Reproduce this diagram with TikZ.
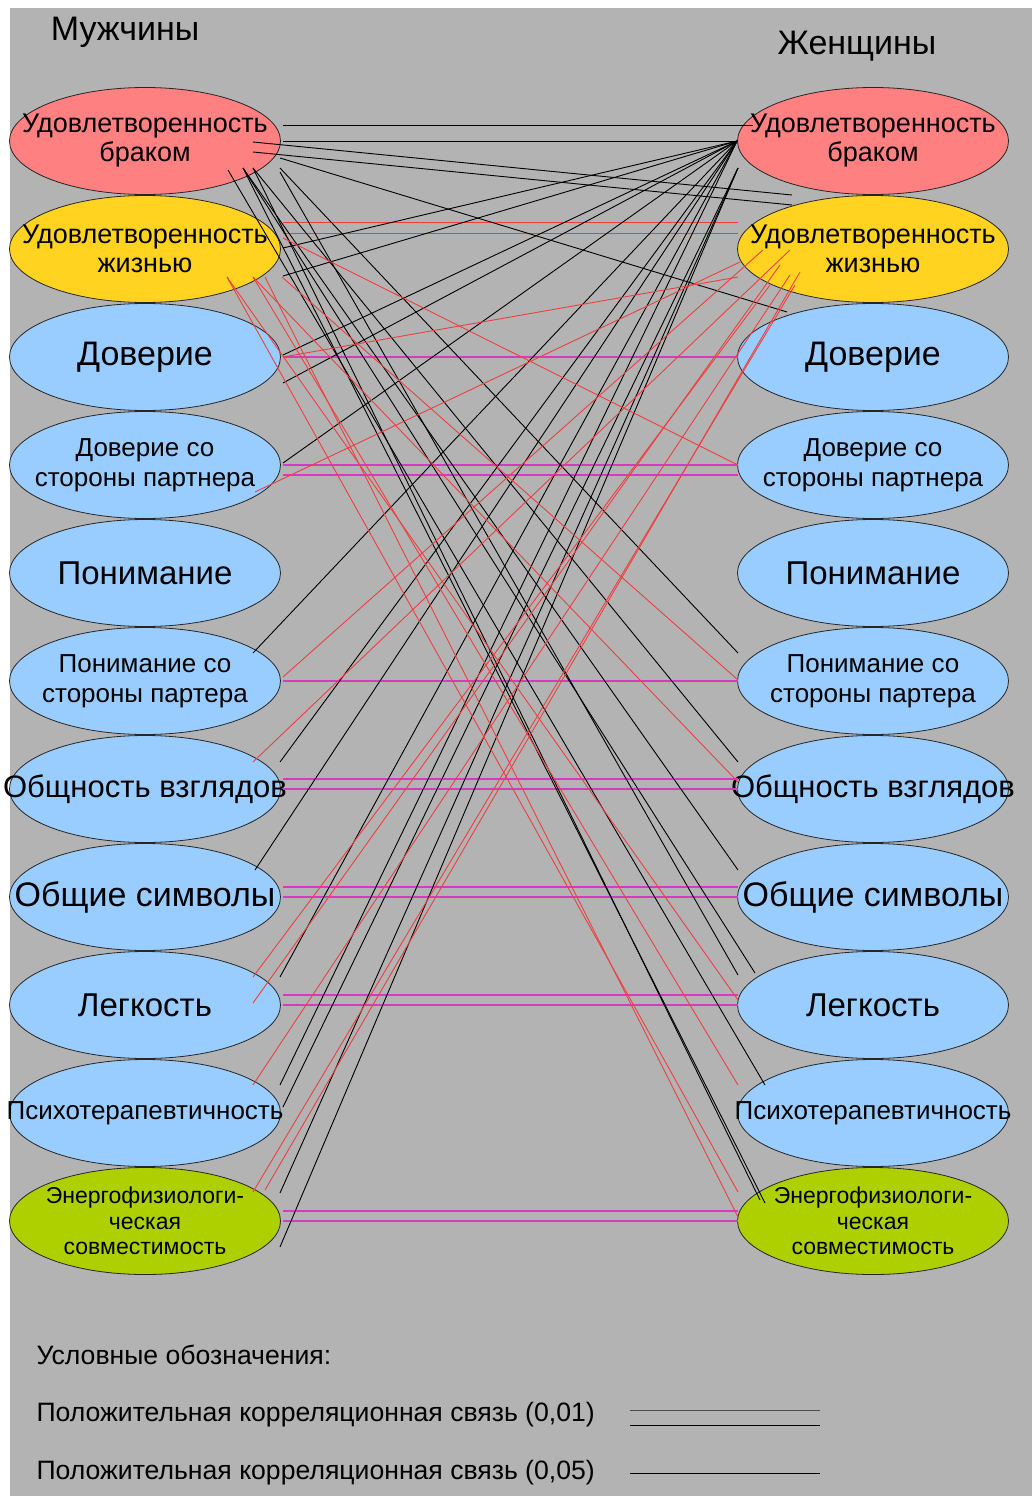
\documentclass[tikz,border=0pt]{standalone}
\usepackage{fontspec}
\setmainfont{Liberation Sans}
\usetikzlibrary{shapes.geometric,calc}
\definecolor{bgcol}{RGB}{179,179,179}
\definecolor{redfill}{RGB}{255,128,128}
\definecolor{yelfill}{RGB}{255,211,32}
\definecolor{bluefill}{RGB}{153,204,255}
\definecolor{grnfill}{RGB}{174,207,0}
\definecolor{redline}{RGB}{236,64,64}
\definecolor{magline}{RGB}{214,58,196}
\newcommand{\setfs}[2]{\fontsize{#1}{#2}\selectfont}
\tikzset{
	oval/.style={ellipse, draw=black!85, line width=0.8pt, minimum width=271pt, minimum height=107pt, inner sep=0pt},
	blk/.style={black, line width=0.9pt},
	rd/.style={redline, line width=0.9pt},
	mag/.style={magline, line width=1.6pt},
	every label/.style={align=center, inner sep=0pt, text=black},
}
\begin{document}
\begin{tikzpicture}[x=1pt, y=-1pt]
	\useasboundingbox (0,0) rectangle (1032,1496);
	\fill[white] (0,0) rectangle (1032,1496);
	\fill[bgcol] (10,8) rectangle (1032,1496);
	\node[font=\setfs{34}{36}] at (125,32) (tm) {Мужчины};
	\node[font=\setfs{34}{36}] at (857,46) (tw) {Женщины};
	% men
	\node[oval, fill=redfill, label={[font=\setfs{27}{29}]center:Удовлетворенность\\браком}] at (145,141) (m1) {};
	\node[oval, fill=yelfill, label={[font=\setfs{27}{29}]center:Удовлетворенность\\жизнью}] at (145,249) (m2) {};
	\node[oval, fill=bluefill, label={[font=\setfs{34}{36}]center:Доверие}] at (145,357) (m3) {};
	\node[oval, fill=bluefill, label={[font=\setfs{26}{30}]center:Доверие со\\стороны партнера}] at (145,465) (m4) {};
	\node[oval, fill=bluefill, label={[font=\setfs{33}{36}]center:Понимание}] at (145,573) (m5) {};
	\node[oval, fill=bluefill, label={[font=\setfs{26}{30}]center:Понимание со\\стороны партера}] at (145,681) (m6) {};
	\node[oval, fill=bluefill, label={[font=\setfs{31}{34}]center:Общность взглядов}] at (145,789) (m7) {};
	\node[oval, fill=bluefill, label={[font=\setfs{34}{36}]center:Общие символы}] at (145,897) (m8) {};
	\node[oval, fill=bluefill, label={[font=\setfs{33}{36}]center:Легкость}] at (145,1005) (m9) {};
	\node[oval, fill=bluefill, label={[font=\setfs{26}{28}]center:Психотерапевтичность}] at (145,1113) (m10) {};
	\node[oval, fill=grnfill, label={[font=\setfs{23}{25.5}]center:Энергофизиологи-\\ческая\\совместимость}] at (145,1221) (m11) {};
	% women
	\node[oval, fill=redfill, label={[font=\setfs{27}{29}]center:Удовлетворенность\\браком}] at (873,141) (w1) {};
	\node[oval, fill=yelfill, label={[font=\setfs{27}{29}]center:Удовлетворенность\\жизнью}] at (873,249) (w2) {};
	\node[oval, fill=bluefill, label={[font=\setfs{34}{36}]center:Доверие}] at (873,357) (w3) {};
	\node[oval, fill=bluefill, label={[font=\setfs{26}{30}]center:Доверие со\\стороны партнера}] at (873,465) (w4) {};
	\node[oval, fill=bluefill, label={[font=\setfs{33}{36}]center:Понимание}] at (873,573) (w5) {};
	\node[oval, fill=bluefill, label={[font=\setfs{26}{30}]center:Понимание со\\стороны партера}] at (873,681) (w6) {};
	\node[oval, fill=bluefill, label={[font=\setfs{31}{34}]center:Общность взглядов}] at (873,789) (w7) {};
	\node[oval, fill=bluefill, label={[font=\setfs{34}{36}]center:Общие символы}] at (873,897) (w8) {};
	\node[oval, fill=bluefill, label={[font=\setfs{33}{36}]center:Легкость}] at (873,1005) (w9) {};
	\node[oval, fill=bluefill, label={[font=\setfs{26}{28}]center:Психотерапевтичность}] at (873,1113) (w10) {};
	\node[oval, fill=grnfill, label={[font=\setfs{23}{25.5}]center:Энергофизиологи-\\ческая\\совместимость}] at (873,1221) (w11) {};
	% same scale
	\draw[blk] ($(m1)+(138,-16)$) -- ($(w1)+(-120,-16)$);
	\draw[blk] ($(m1)+(138,0)$) -- (w1.west);
	\draw[rd] ($(m2)+(138,-27)$) -- ($(w2)+(-135,-27)$);
	\draw[rd] ($(m2)+(138,-16)$) -- ($(w2)+(-135,-16)$);
	\draw[mag] ($(m3)+(138,0)$) -- ($(w3)+(-135,0)$);
	\draw[mag] ($(m4)+(138,0)$) -- ($(w4)+(-135,0)$);
	\draw[mag] ($(m4)+(138,10)$) -- ($(w4)+(-135,10)$);
	\draw[mag] ($(m6)+(138,0)$) -- ($(w6)+(-135,0)$);
	\draw[mag] ($(m7)+(138,-10)$) -- ($(w7)+(-135,-10)$);
	\draw[mag] ($(m7)+(138,0)$) -- ($(w7)+(-135,0)$);
	\draw[mag] ($(m8)+(138,-10)$) -- ($(w8)+(-135,-10)$);
	\draw[mag] ($(m8)+(138,0)$) -- ($(w8)+(-135,0)$);
	\draw[mag] ($(m9)+(138,-10)$) -- ($(w9)+(-135,-10)$);
	\draw[mag] ($(m9)+(138,0)$) -- ($(w9)+(-135,0)$);
	\draw[mag] ($(m11)+(138,-10)$) -- ($(w11)+(-135,-10)$);
	\draw[mag] ($(m11)+(138,0)$) -- ($(w11)+(-135,0)$);
	% women: marriage
	\draw[blk] ($(m2)+(138,-1)$) -- (w1.west);
	\draw[blk] ($(m2)+(138,27)$) -- (w1.west);
	\draw[blk] ($(m3)+(138,-2)$) -- (w1.west);
	\draw[blk] ($(m3)+(138,26)$) -- (w1.west);
	\draw[blk] ($(m4)+(138,-2)$) -- (w1.west);
	\draw[blk] ($(m6)+(108,-28)$) -- (w1.west);
	\draw[blk] ($(m7)+(135,-27)$) -- (w1.west);
	\draw[blk] ($(m8)+(110,-27)$) -- (w1.west);
	\draw[blk] ($(m9)+(135,-28)$) -- (w1.west);
	\draw[blk] ($(m10)+(135,-28)$) -- (w1.west);
	\draw[blk] ($(m10)+(138,-6)$) -- ($(w1)+(-135,27)$);
	\draw[blk] ($(m11)+(135,-28)$) -- ($(w1)+(-135,27)$);
	\draw[blk] ($(m11)+(135,26)$) -- ($(w1)+(-135,27)$);
	% men: marriage
	\draw[blk] ($(m1)+(108,1)$) -- ($(w1)+(-81,54)$);
	\draw[blk] ($(m1)+(108,11)$) -- ($(w1)+(-81,64)$);
	\draw[blk] ($(m1)+(135,17)$) -- ($(w3)+(-86,-45)$);
	\draw[blk] ($(m1)+(135,27)$) -- ($(w6)+(-135,-28)$);
	\draw[blk] ($(m1)+(108,27)$) -- ($(w7)+(-135,-27)$);
	\draw[blk] ($(m1)+(98,27)$) -- ($(w8)+(-135,-27)$);
	\draw[blk] ($(m1)+(135,31)$) -- ($(w9)+(-135,-30)$);
	\draw[blk] ($(m1)+(98,27)$) -- ($(w9)+(-118,-32)$);
	\draw[blk] ($(m1)+(83,29)$) -- ($(w10)+(-108,-28)$);
	\draw[blk] ($(m1)+(108,27)$) -- ($(w11)+(-113,-21)$);
	\draw[blk] ($(m1)+(98,27)$) -- ($(w11)+(-108,-18)$);
	% women: life
	\draw[rd] ($(m3)+(138,0)$) -- ($(w2)+(-135,28)$);
	\draw[rd] ($(m4)+(110,27)$) -- ($(w2)+(-133,13)$);
	\draw[rd] ($(m6)+(138,-4)$) -- ($(w2)+(-110,1)$);
	\draw[rd] ($(m7)+(108,-27)$) -- ($(w2)+(-83,1)$);
	\draw[rd] ($(m9)+(108,-28)$) -- ($(w2)+(-103,36)$);
	\draw[rd] ($(m9)+(108,-2)$) -- ($(w2)+(-93,16)$);
	\draw[rd] ($(m10)+(108,-28)$) -- ($(w2)+(-83,26)$);
	\draw[rd] ($(m11)+(108,-29)$) -- ($(w2)+(-78,36)$);
	\draw[rd] ($(m11)+(120,-31)$) -- ($(w2)+(-73,23)$);
	% men: life
	\draw[rd] ($(m2)+(138,-11)$) -- ($(w4)+(-135,0)$);
	\draw[rd] ($(m2)+(137,28)$) -- ($(w6)+(-135,-1)$);
	\draw[rd] ($(m2)+(108,28)$) -- ($(w7)+(-135,-7)$);
	\draw[rd] ($(m2)+(82,28)$) -- ($(w9)+(-135,-5)$);
	\draw[rd] ($(m2)+(108,28)$) -- ($(w10)+(-135,-28)$);
	\draw[rd] ($(m2)+(82,28)$) -- ($(w11)+(-135,-29)$);
	\draw[rd] ($(m2)+(120,28)$) -- ($(w11)+(-135,-4)$);
	% legend
	\node[anchor=west, font=\setfs{26.6}{28}] at (33,1355) (leg0) {Условные обозначения:};
	\node[anchor=west, font=\setfs{26.6}{28}] at (33,1415) (leg1) {Положительная корреляционная связь (0,01)};
	\node[anchor=west, font=\setfs{26.6}{28}] at (33,1473) (leg2) {Положительная корреляционная связь (0,05)};
	\coordinate (l1a) at (630,1410);
	\coordinate (l1b) at (820,1410);
	\coordinate (l2a) at (630,1425);
	\coordinate (l2b) at (820,1425);
	\coordinate (l3a) at (630,1473);
	\coordinate (l3b) at (820,1473);
	\draw[black!70, line width=1pt] (l1a) -- (l1b);
	\draw[blk] (l2a) -- (l2b);
	\draw[blk] (l3a) -- (l3b);
\end{tikzpicture}
\end{document}
